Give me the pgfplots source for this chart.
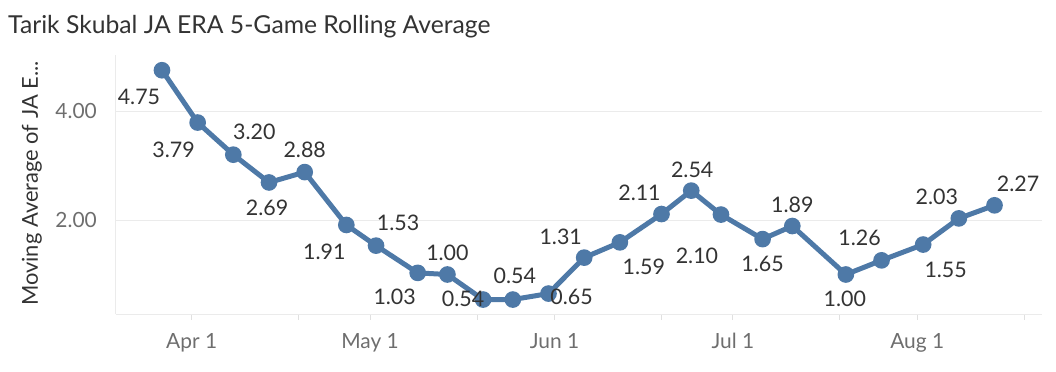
\documentclass[border=0pt]{standalone}
\usepackage{fontspec}
\setmainfont{Lato}
\usepackage{pgfplots}
\pgfplotsset{compat=1.18}
\usepackage{pgfplotstable}
\definecolor{tblue}{HTML}{4E79A7}
\definecolor{tgrid}{HTML}{EBEBEB}
\definecolor{tlab}{HTML}{333333}
\definecolor{ttick}{HTML}{6E6E6E}

\pgfplotstableread{
x y dx dy
-5 4.75 -23 -27
1 3.79 -24 -27
7 3.20 21 22.5
13 2.69 -2 -25
19 2.88 0 22
26 1.91 -22 -26.5
31 1.53 22 23
38 1.03 -23 -24
43 1.00 0 22
49 0.54 -20 1
54 0.54 2 24
60 0.65 23 -3
66 1.31 -23.5 21
72 1.59 24 -24
79 2.11 -22 21.5
84 2.54 1 21
89 2.10 -24 -41.5
96 1.65 0 -25
101 1.89 0 21
110 1.00 -1 -24
116 1.26 -22 23
123 1.55 22.5 -25
129 2.03 -22 22
135 2.27 23.5 22
}\datatable

\begin{document}
\begin{tikzpicture}
\begin{axis}[
  scale only axis, width=925.5bp, height=259bp,
  xmin=-12.73, xmax=142.9, ymin=0.275, ymax=5.03,
  axis x line*=bottom, axis y line*=left,
  axis line style={draw=tgrid, line width=1bp, -},
  xtick={0,30,61,91,122}, xticklabels={Apr 1,May 1,Jun 1,Jul 1,Aug 1},
  minor xtick={18,48,79,109,140},
  ytick={2,4}, yticklabels={2.00,4.00},
  ymajorgrids, grid style={draw=tgrid, line width=1bp},
  tick align=outside, major tick length=6bp, minor tick length=6bp,
  tick style={draw=black!12, line width=1bp},
  ytick style={draw=none},
  ticklabel style={font=\fontsize{21}{25}\selectfont, text=ttick},
  yticklabel style={inner sep=0pt, anchor=east, xshift=-13bp},
  xticklabel style={inner sep=0pt, anchor=north, yshift=-13bp},
  clip=false,
]
\addplot[tblue, line width=5bp, mark=*, mark size=5.8bp,
  mark options={fill=tblue, draw=none},
  visualization depends on={\thisrow{dx}\as\dx},
  visualization depends on={\thisrow{dy}\as\dy},
  nodes near coords={\pgfmathprintnumber[fixed,fixed zerofill,precision=2,assume math mode=true]{\pgfplotspointmeta}},
  every node near coord/.append style={anchor=center, xshift=\dx bp, yshift=\dy bp,
    font=\fontsize{21.5}{25}\selectfont, text=tlab, inner sep=0pt},
] table[x=x,y=y] {\datatable};
\end{axis}
\node[anchor=base west, font=\fontsize{24.8}{29}\selectfont, text=tlab, inner sep=0pt] at (-108bp,280bp) {Tarik Skubal JA ERA 5-Game Rolling Average};
\node[rotate=90, anchor=center, font=\fontsize{22}{26}\selectfont, text=tlab, inner sep=0pt] at (-84bp,130.5bp) {Moving Average of JA E...};
\path[use as bounding box] (-116bp,-58bp) rectangle (940bp,314bp);
\end{tikzpicture}
\end{document}
